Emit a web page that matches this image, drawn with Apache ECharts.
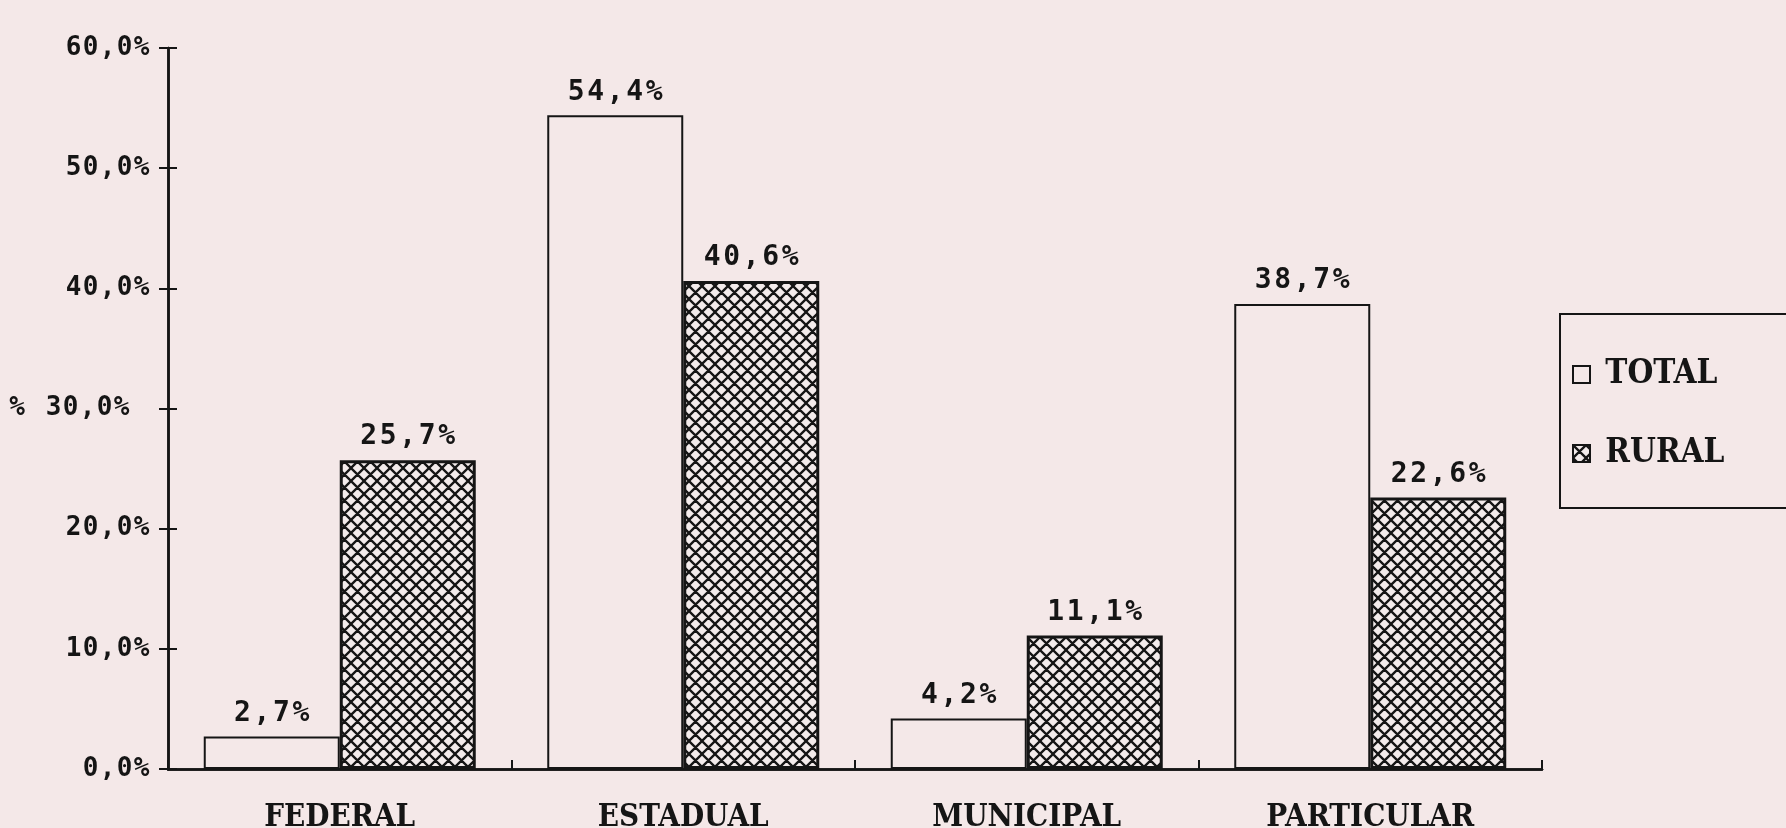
<!DOCTYPE html>
<html><head><meta charset="utf-8">
<script src="https://cdn.jsdelivr.net/npm/echarts@6/dist/echarts.min.js"></script>
<style>html,body{margin:0;padding:0;background:#f4e8e8}#c{width:1786px;height:828px}</style>
</head><body><div id="c"></div>
<script>
const categories = ['FEDERAL', 'ESTADUAL', 'MUNICIPAL', 'PARTICULAR'];
const totalValues = [2.7, 54.4, 4.2, 38.7];
const ruralValues = [25.7, 40.6, 11.1, 22.6];
const seriesNames = ['TOTAL', 'RURAL'];
const axisName = '%';

const BG = '#f4e8e8', INK = '#151515';
function hatch() {
  const s = 13, c = document.createElement('canvas');
  c.width = s; c.height = s;
  const g = c.getContext('2d');
  g.fillStyle = '#f3ebeb'; g.fillRect(0, 0, s, s);
  g.strokeStyle = INK; g.lineWidth = 2.3;
  g.beginPath();
  for (let k = -1; k <= 1; k++) {
    g.moveTo(k * s, 0); g.lineTo(k * s + s, s);
    g.moveTo(k * s + s, 0); g.lineTo(k * s, s);
  }
  g.stroke();
  return c;
}
const fmt = v => v.toFixed(1).replace('.', ',') + '%';
const cells = (str, key) => str.split('').map(ch => '{' + key + '|' + ch + '}').join('');
const mono = '"DejaVu Sans Mono", monospace';
const slab = '"DejaVu Serif Condensed", "DejaVu Serif", serif';
const cell = (w, size, weight) => ({ width: w, align: 'center', fontFamily: mono, fontSize: size, fontWeight: weight, color: INK });

const chart = echarts.init(document.getElementById('c'));
chart.setOption({
  backgroundColor: BG,
  animation: false,
  grid: { left: 168, right: 244, top: 48, bottom: 59, containLabel: false, outerBoundsMode: 'none' },
  legend: {
    orient: 'vertical', left: 1560, top: 314,
    padding: [44, 160, 38, 12], itemGap: 46,
    itemWidth: 17, itemHeight: 17, icon: 'rect',
    borderColor: INK, borderWidth: 2, backgroundColor: BG,
    formatter: n => ' ' + n,
    textStyle: { color: INK, fontFamily: slab, fontWeight: 'bold', fontSize: 33, lineHeight: 28 },
    data: seriesNames
  },
  xAxis: [{
    type: 'category', data: categories,
    axisLine: { lineStyle: { color: INK, width: 2.5 } },
    axisTick: { length: 9, lineStyle: { color: INK, width: 2 } },
    axisLabel: { margin: 33, fontFamily: slab, fontWeight: 'bold', fontSize: 31, color: INK }
  }, {
    type: 'category', data: categories, position: 'bottom',
    axisLine: { show: true, lineStyle: { color: INK, width: 2.5 } },
    axisTick: { show: true, inside: true, length: 9, lineStyle: { color: INK, width: 2 } },
    axisLabel: { show: false }
  }],
  yAxis: [{
    type: 'value', min: 0, max: 60, interval: 10,
    name: axisName, nameLocation: 'middle', nameRotate: 0, nameGap: 143,
    nameTextStyle: { fontFamily: mono, fontWeight: 'bold', fontSize: 26, color: INK },
    splitLine: { show: false },
    axisLine: { show: true, lineStyle: { color: INK, width: 2.5 } },
    axisTick: { show: true, length: 9, lineStyle: { color: INK, width: 2 } },
    axisLabel: {
      margin: 18,
      formatter: v => cells(fmt(v), 'y') + (v === 30 ? '{sp| }' : ''),
      rich: { y: cell(17, 26, 'bold'), sp: { width: 20, fontSize: 26 } }
    }
  }, {
    type: 'value', min: 0, max: 60, interval: 10, position: 'left',
    splitLine: { show: false },
    axisLine: { show: true, lineStyle: { color: INK, width: 2.5 } },
    axisTick: { show: true, inside: true, length: 9, lineStyle: { color: INK, width: 2 } },
    axisLabel: { show: false }
  }],
  series: [{
    name: seriesNames[0], type: 'bar', data: totalValues,
    barWidth: 136, barGap: '0%',
    itemStyle: { color: BG, borderColor: INK, borderWidth: 2 },
    label: { show: true, position: 'top', distance: 9,
      formatter: p => cells(fmt(p.value), 'v'), rich: { v: cell(19.5, 28, 'bold') } }
  }, {
    name: seriesNames[1], type: 'bar', data: ruralValues,
    barWidth: 136, barGap: '0%',
    itemStyle: { color: { image: hatch(), repeat: 'repeat' }, borderColor: INK, borderWidth: 3 },
    label: { show: true, position: 'top', distance: 9,
      formatter: p => cells(fmt(p.value), 'v'), rich: { v: cell(19.5, 28, 'bold') } }
  }]
});
</script></body></html>
